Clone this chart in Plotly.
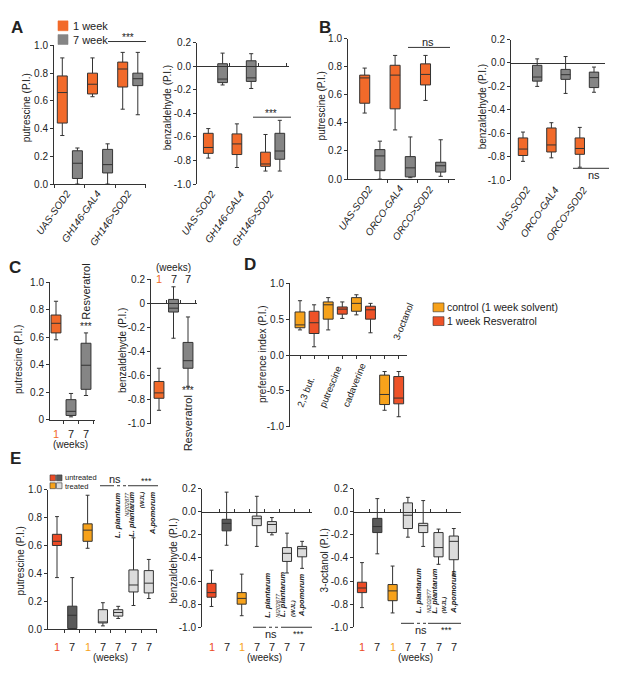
import plotly.graph_objects as go

W, H = 617, 697
FONT = "Liberation Sans, Arial, Helvetica, sans-serif"
EDGE = "#333333"
INK = "#222222"
ORANGE = "#f26a2a"
GREY = "#858585"
CTRL = "#f7a21b"
RESV = "#ee5228"
UNTR1 = "#ec4b26"
UNTR7 = "#5a5a5a"
TRT1 = "#f7a21b"
TRT7 = "#dcdcdc"

# box statistics per box: (lower whisker, q1, median, q3, upper whisker)
a_groups = ["UAS-SOD2", "GH146-GAL4", "GH146>SOD2"]
a_put_1wk = [(0.35, 0.44, 0.66, 0.78, 0.91), (0.63, 0.65, 0.72, 0.80, 0.91), (0.54, 0.70, 0.83, 0.88, 0.95)]
a_put_7wk = [(0.0, 0.04, 0.15, 0.24, 0.26), (0.0, 0.08, 0.14, 0.25, 0.29), (0.50, 0.71, 0.76, 0.80, 0.95)]
a_benz_1wk = [(-0.78, -0.74, -0.69, -0.57, -0.53), (-0.86, -0.75, -0.66, -0.575, -0.49), (-0.89, -0.85, -0.83, -0.73, -0.58)]
a_benz_7wk = [(-0.16, -0.14, -0.11, 0.02, 0.11), (-0.19, -0.13, -0.10, 0.045, 0.105), (-0.89, -0.79, -0.72, -0.57, -0.46)]

b_groups = ["UAS-SOD2", "ORCO-GAL4", "ORCO>SOD2"]
b_put_1wk = [(0.47, 0.54, 0.72, 0.74, 0.79), (0.35, 0.50, 0.74, 0.81, 0.88), (0.56, 0.67, 0.745, 0.82, 0.88)]
b_put_7wk = [(0.0, 0.06, 0.165, 0.21, 0.27), (0.01, 0.016, 0.08, 0.16, 0.30), (0.02, 0.05, 0.095, 0.12, 0.28)]
b_benz_1wk = [(-0.84, -0.79, -0.735, -0.64, -0.59), (-0.81, -0.76, -0.70, -0.555, -0.51), (-0.89, -0.78, -0.73, -0.64, -0.55)]
b_benz_7wk = [(-0.20, -0.155, -0.12, -0.02, 0.035), (-0.26, -0.14, -0.10, -0.055, 0.055), (-0.25, -0.21, -0.125, -0.078, -0.035)]

c_weeks = ["1", "7", "7"]
c_put = [(0.58, 0.63, 0.70, 0.76, 0.86), (0.02, 0.03, 0.06, 0.145, 0.19), (0.175, 0.22, 0.395, 0.555, 0.63)]
c_benz = [(-0.89, -0.79, -0.745, -0.65, -0.54), (-0.29, -0.072, -0.04, 0.033, 0.138), (-0.69, -0.54, -0.477, -0.325, -0.113)]

d_odours = ["2,3 but.", "putrescine", "cadaverine", "3-octanol"]
d_control = [(0.35, 0.38, 0.42, 0.60, 0.757), (0.35, 0.50, 0.70, 0.74, 0.80), (0.56, 0.61, 0.72, 0.80, 0.84), (-0.77, -0.69, -0.55, -0.28, -0.23)]
d_resv = [(0.115, 0.30, 0.45, 0.61, 0.70), (0.51, 0.57, 0.64, 0.67, 0.74), (0.31, 0.50, 0.63, 0.68, 0.72), (-0.86, -0.68, -0.60, -0.30, -0.23)]

e_weeks = ["1", "7", "1", "7", "7", "7", "7"]
e_put = [(0.37, 0.60, 0.63, 0.68, 0.807), (0.0, 0.005, 0.10, 0.165, 0.37), (0.58, 0.63, 0.71, 0.755, 0.96),
         (0.024, 0.045, 0.05, 0.14, 0.19), (0.077, 0.094, 0.12, 0.14, 0.164), (0.17, 0.267, 0.317, 0.425, 0.655),
         (0.22, 0.26, 0.33, 0.42, 0.50)]
e_benz = [(-0.82, -0.74, -0.70, -0.62, -0.506), (-0.29, -0.165, -0.10, -0.065, 0.17), (-0.90, -0.80, -0.75, -0.70, -0.54),
          (-0.30, -0.12, -0.06, -0.037, 0.134), (-0.20, -0.18, -0.11, -0.085, -0.05), (-0.53, -0.43, -0.36, -0.31, -0.185),
          (-0.49, -0.39, -0.32, -0.30, -0.256)]
e_oct = [(-0.83, -0.70, -0.66, -0.61, -0.44), (-0.364, -0.18, -0.128, -0.057, 0.114), (-0.876, -0.77, -0.685, -0.63, -0.47),
         (-0.22, -0.145, -0.03, 0.077, 0.125), (-0.30, -0.18, -0.12, -0.10, 0.097), (-0.455, -0.39, -0.31, -0.18, -0.15),
         (-0.55, -0.415, -0.256, -0.21, -0.145)]

e_fills = [UNTR1, UNTR7, TRT1, TRT7, TRT7, TRT7, TRT7]

fig = go.Figure()


def refs(k):
    return ("x", "y") if k == 1 else (f"x{k}", f"y{k}")


def panel(k, left, right, pos0, step, top, bottom, vtop, vbot, yvals, ytext,
          xticks, zero_axis=False, xtickdir="outside"):
    xr, yr = refs(k)
    xd = [left / W, right / W]
    yd = [1 - bottom / H, 1 - top / H]
    xax = dict(domain=xd, range=[(left - pos0) / step, (right - pos0) / step],
               showline=True, linecolor=EDGE, linewidth=1, ticks=xtickdir if xticks else "",
               tickvals=xticks, ticklen=3, tickcolor=EDGE, showticklabels=False,
               showgrid=False, zeroline=False, fixedrange=True)
    if zero_axis:
        xax.update(anchor="free", position=yd[0] + (0 - vbot) / (vtop - vbot) * (yd[1] - yd[0]))
    else:
        xax.update(anchor=yr)
    yax = dict(domain=yd, range=[vbot, vtop], anchor=xr, showline=True, linecolor=EDGE,
               linewidth=1, ticks="outside", ticklen=3, tickcolor=EDGE, tickvals=yvals,
               ticktext=ytext, tickfont=dict(size=10, color=INK, family=FONT),
               showgrid=False, zeroline=False, fixedrange=True)
    fig.update_layout(**{xr.replace("x", "xaxis"): xax, yr.replace("y", "yaxis"): yax})


def boxes(k, positions, stats, color, width):
    xr, yr = refs(k)
    lo, q1, med, q3, hi = zip(*stats)
    fig.add_trace(go.Box(x=list(positions), lowerfence=list(lo), q1=list(q1), median=list(med),
                         q3=list(q3), upperfence=list(hi), fillcolor=color,
                         line=dict(color=EDGE, width=1), width=width, whiskerwidth=0.42,
                         boxpoints=False, showlegend=False, hoverinfo="skip",
                         xaxis=xr, yaxis=yr))


def txt(s, x, y, size=10, angle=0, xa="center", ya="middle", color=INK, xref="paper", align="center"):
    fig.add_annotation(text=s, x=x / W if xref == "paper" else x, y=1 - y / H, xref=xref,
                       yref="paper", showarrow=False, textangle=angle, xanchor=xa, yanchor=ya,
                       align=align, borderpad=0,
                       font=dict(size=size, color=color, family=FONT))


def hline(x0, x1, y, dash="solid"):
    fig.add_shape(type="line", xref="paper", yref="paper", x0=x0 / W, x1=x1 / W,
                  y0=1 - y / H, y1=1 - y / H, line=dict(color=EDGE, width=1, dash=dash))


def swatch(x0, y0, x1, y1, color, border=None):
    fig.add_shape(type="rect", xref="paper", yref="paper", x0=x0 / W, x1=x1 / W,
                  y0=1 - y1 / H, y1=1 - y0 / H, fillcolor=color,
                  line=dict(color=border or color, width=0.6))


pos_ticks = [0.0, 0.2, 0.4, 0.6, 0.8, 1.0]
pos_text = ["0.0", "0.2", "0.4", "0.6", "0.8", "1.0"]
neg_ticks = [0.2, 0.0, -0.2, -0.4, -0.6, -0.8, -1.0]
neg_text = ["0.2", "0.0", "-0.2", "-0.4", "-0.6", "-0.8", "-1.0"]

# ---------------- A ----------------
panel(1, 46, 138, 54.3, 15.1, 32, 173, 1.0, 0.0, pos_ticks, pos_text, [-0.5, 1.5, 3.5, 5.5])
boxes(1, [0, 2, 4], a_put_1wk, ORANGE, 0.66)
boxes(1, [1, 3, 5], a_put_7wk, GREY, 0.66)
panel(2, 189, 281, 200.3, 14.3, 29, 173, 0.2, -1.0, neg_ticks, neg_text, [1.5, 3.5, 5.5],
      zero_axis=True, xtickdir="inside")
boxes(2, [0, 2, 4], a_benz_1wk, ORANGE, 0.68)
boxes(2, [1, 3, 5], a_benz_7wk, GREY, 0.68)
for i, g in enumerate(a_groups):
    txt(f"<i>{g}</i>", 2 * i + 0.8, 176, angle=-55, xa="right", ya="top", xref="x")
    txt(f"<i>{g}</i>", 2 * i + 0.8, 176, angle=-55, xa="right", ya="top", xref="x2")
txt("putrescine (P.I.)", 18, 96, angle=-90)
txt("benzaldehyde (P.I.)", 159, 95, angle=-90)
hline(100, 138, 28)
txt("***", 120, 24, size=10)
hline(245, 283, 105)
txt("***", 263, 101, size=10)
swatch(50, 7, 60, 17, ORANGE)
swatch(50, 21, 60, 31, GREY)
txt("1 week", 64, 12, size=11, xa="left")
txt("7 week", 64, 26, size=11, xa="left")
txt("<b>A</b>", 9, 14, size=17)

# ---------------- B ----------------
panel(3, 340, 447, 356.7, 15.2, 25, 168, 1.0, 0.0, pos_ticks, pos_text, [1.5, 3.5, 5.5])
boxes(3, [0, 2, 4], b_put_1wk, ORANGE, 0.66)
boxes(3, [1, 3, 5], b_put_7wk, GREY, 0.66)
panel(4, 503, 597, 515, 14.2, 26, 169, 0.2, -1.0, neg_ticks, neg_text, [],
      zero_axis=True, xtickdir="inside")
boxes(4, [0, 2, 4], b_benz_1wk, ORANGE, 0.66)
boxes(4, [1, 3, 5], b_benz_7wk, GREY, 0.66)
for i, g in enumerate(b_groups):
    txt(f"<i>{g}</i>", 2 * i + 0.8, 171, angle=-55, xa="right", ya="top", xref="x3")
    txt(f"<i>{g}</i>", 2 * i + 0.8, 172, angle=-55, xa="right", ya="top", xref="x4")
txt("putrescine (P.I.)", 313, 94, angle=-90)
txt("benzaldehyde (P.I.)", 474, 95, angle=-90)
hline(400, 442, 34)
txt("ns", 420, 28, size=11)
hline(565, 603, 157)
txt("ns", 586, 164, size=11)
txt("<b>B</b>", 317, 14, size=17)

# ---------------- C ----------------
panel(5, 42, 87, 48, 15, 272.7, 412.7, 1.0, 0.0, pos_ticks, ["0", "0.2", "0.4", "0.6", "0.8", "1.0"],
      [0.5, 1.5, 2.5])
boxes(5, [0], c_put[:1], ORANGE, 0.66)
boxes(5, [1, 2], c_put[1:], GREY, 0.66)
panel(6, 143, 189, 151, 14.5, 270, 416.7, 0.2, -1.0, neg_ticks,
      ["0.2", "0", "-0.2", "-0.4", "-0.6", "-0.8", "-1.0"], [0.5, 1.5, 2.5],
      zero_axis=True, xtickdir="inside")
boxes(6, [0], c_benz[:1], ORANGE, 0.68)
boxes(6, [1, 2], c_benz[1:], GREY, 0.68)
for i, w in enumerate(c_weeks):
    col = ORANGE if w == "1" else INK
    txt(w, i, 427, size=11, color=col, xref="x5")
    txt(w, i, 270, size=11, color=col, xref="x6")
txt("(weeks)", 1, 438, size=10, xref="x5")
txt("(weeks)", 1, 258, size=10, xref="x6")
txt("Resveratrol", 2, 312, size=11, angle=-90, ya="bottom", xref="x5")
txt("***", 2, 318, size=10, xref="x5")
txt("***", 2, 383, size=10, xref="x6")
txt("Resveratrol", 2, 387, size=11, angle=-90, ya="top", xref="x6")
txt("putrescine (P.I.)", 11, 352, angle=-90)
txt("benzaldehyde (P.I.)", 114, 343, angle=-90)
txt("<b>C</b>", 7, 258, size=17)

# ---------------- D ----------------
panel(7, 282, 399, 292, 14.1, 274, 420, 1.0, -1.0, [1.0, 0.5, 0.0, -0.5, -1.0],
      ["1.0", "0.5", "0.0", "-0.5", "-1.0"], list(range(8)), zero_axis=True, xtickdir="outside")
boxes(7, [0, 2, 4, 6], d_control, CTRL, 0.7)
boxes(7, [1, 3, 5, 7], d_resv, RESV, 0.7)
for xpos, name in zip([-0.45, 1.1, 2.75], d_odours[:3]):
    txt(name, xpos, 403, size=9.5, angle=-68, xa="left", ya="bottom", xref="x7")
txt(d_odours[3], 6.35, 335, size=9.5, angle=-68, xa="left", ya="bottom", xref="x7")
txt("preference index (P.I.)", 254, 346, angle=-90)
swatch(425, 294, 436, 303, CTRL, EDGE)
swatch(425, 308, 436, 317, RESV, EDGE)
txt("control (1 week solvent)", 438, 298, size=10.5, xa="left")
txt("1 week Resveratrol", 438, 312, size=10.5, xa="left")
txt("<b>D</b>", 242, 255, size=17)

# ---------------- E ----------------
e_bounds = [0.5, 1.5, 2.5, 3.5, 4.5, 5.5, 6.5]
panel(8, 40, 149, 49, 15.3, 484, 626, 1.0, 0.0, pos_ticks, pos_text, e_bounds)
panel(9, 194, 304, 203.5, 15.1, 483, 624, 0.2, -1.0, neg_ticks, neg_text, e_bounds,
      zero_axis=True, xtickdir="inside")
panel(10, 346, 453, 354, 15.3, 483, 624, 0.2, -1.0, neg_ticks, neg_text, e_bounds,
      zero_axis=True, xtickdir="inside")
for k, stats in ((8, e_put), (9, e_benz), (10, e_oct)):
    for i, s in enumerate(stats):
        boxes(k, [i], [s], e_fills[i], 0.6)
    for i, w in enumerate(e_weeks):
        col = INK if w == "7" else (UNTR1 if i == 0 else TRT1)
        txt(w, i, 644, size=11, color=col, xref=f"x{k}")
    txt("(weeks)", 3.5, 655, size=10, xref=f"x{k}")

strain_labels = [
    "<b><i>L. plantarum</i></b><br><i><span style='font-size:5.5px'>NI202877</span></i>",
    "<b><i>L. plantarum</i></b><br><b><i><span style='font-size:6px'>(WJL)</span></i></b>",
    "<b><i>A.pomorum</i></b>",
]
for j, lab in enumerate(strain_labels):
    txt(lab, 4 + j + 0.2, 485, size=7.5, angle=-90, ya="top", xref="x8", align="right")
    txt(lab, 4 + j, 615, size=7.5, angle=-90, ya="bottom", xref="x9", align="left")
    txt(lab, 4 + j, 611, size=7.5, angle=-90, ya="bottom", xref="x10", align="left")

hline(92, 103, 480)
hline(103, 120, 480, "dot")
hline(120, 150, 480)
txt("ns", 107, 473, size=11)
txt("***", 138, 475, size=9)
hline(245, 255, 624)
hline(255, 272, 624, "dot")
hline(273, 304, 624)
txt("ns", 263, 631, size=11)
txt("***", 290, 631, size=9)
hline(393, 403, 620)
hline(403, 420, 620, "dot")
hline(420, 453, 620)
txt("ns", 413, 627, size=11)
txt("***", 438, 627, size=9)

txt("putrescine (P.I.)", 12, 557, angle=-90)
txt("benzaldehyde (P.I.)", 165, 556, angle=-90)
txt("3-octanol (P.I.)", 316, 556, angle=-90)

swatch(42, 469, 47.5, 475, UNTR1, EDGE)
swatch(48.5, 469, 54, 475, UNTR7, EDGE)
swatch(42, 477, 47.5, 483, TRT1, EDGE)
swatch(48.5, 477, 54, 483, TRT7, EDGE)
txt("untreated", 56, 472, size=7.5, xa="left")
txt("treated", 56, 480.5, size=7.5, xa="left")
txt("<b>E</b>", 7, 452, size=17)

fig.update_layout(width=W, height=H, autosize=False, margin=dict(l=0, r=0, t=0, b=0),
                  paper_bgcolor="white", plot_bgcolor="white", showlegend=False,
                  font=dict(family=FONT, size=10, color=INK))

fig.write_html("out.html")
